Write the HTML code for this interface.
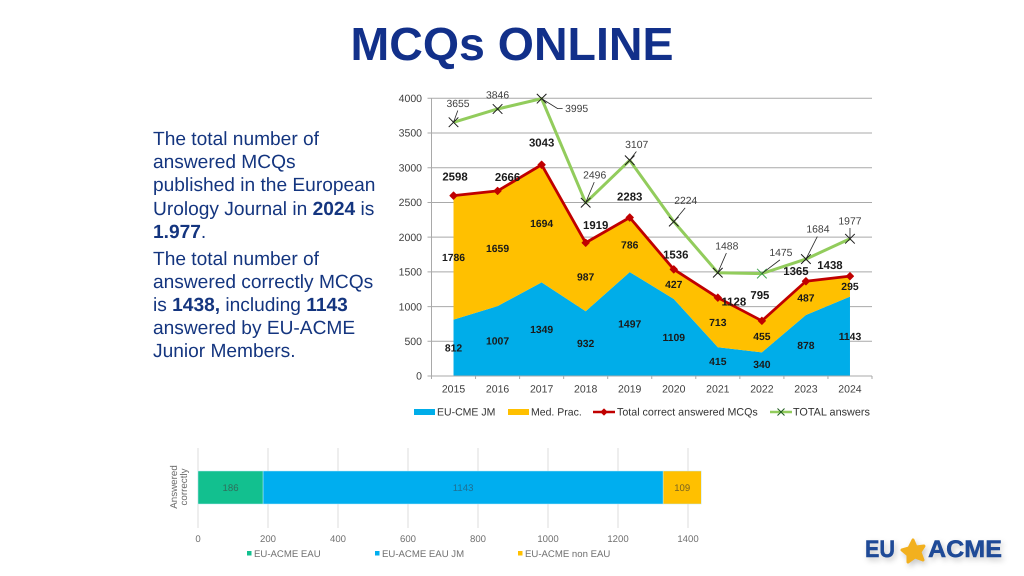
<!DOCTYPE html>
<html lang="en">
<head>
<meta charset="utf-8">
<title>MCQs ONLINE</title>
<style>
html,body{margin:0;padding:0;background:#fff;}
body{width:1024px;height:576px;overflow:hidden;font-family:"Liberation Sans",sans-serif;}
svg{display:block;text-rendering:geometricPrecision;}
text{font-family:"Liberation Sans",sans-serif;}
</style>
</head>
<body>
<svg id="slide" width="1024" height="576" viewBox="0 0 1024 576" xmlns="http://www.w3.org/2000/svg">
  <text x="512" y="60" text-anchor="middle" font-size="46.5" font-weight="700" fill="#12308a">MCQs ONLINE</text>

  <g font-size="19.15" fill="#14357f">
    <text x="153" y="145">The total number of</text>
    <text x="153" y="168">answered MCQs</text>
    <text x="153" y="191">published in the European</text>
    <text x="153" y="215">Urology Journal in <tspan font-weight="700">2024</tspan> is</text>
    <text x="153" y="238"><tspan font-weight="700">1.977</tspan>.</text>
    <text x="153" y="265">The total number of</text>
    <text x="153" y="288">answered correctly MCQs</text>
    <text x="153" y="311">is <tspan font-weight="700">1438,</tspan> including <tspan font-weight="700">1143</tspan></text>
    <text x="153" y="334">answered by EU-ACME</text>
    <text x="153" y="357">Junior Members.</text>
  </g>

  <g id="main-chart"></g>
  <g id="bar-chart"></g>

  <g style="filter:drop-shadow(2px 3px 3px rgba(0,0,0,.22))">
    <text x="865" y="557" font-size="24" font-weight="700" fill="#1f4a97" stroke="#1f4a97" stroke-width="0.5" textLength="30" lengthAdjust="spacingAndGlyphs">EU</text>
    <polygon points="913,540 916,547 924,546 920,552 923,560 915,557 908,562 908,555 902,550 909,548" fill="#f2b01e" stroke="#f2b01e" stroke-width="3" stroke-linejoin="round"></polygon>
    <text x="928" y="557" font-size="24" font-weight="700" fill="#1f4a97" stroke="#1f4a97" stroke-width="0.5" textLength="74" lengthAdjust="spacingAndGlyphs">ACME</text>
  </g>
</svg>

<script>
const years = ['2015','2016','2017','2018','2019','2020','2021','2022','2023','2024'];
const jmValues = [812,1007,1349,932,1497,1109,415,340,878,1143];
const medValues = [1786,1659,1694,987,786,427,713,455,487,295];
const correctValues = [2598,2666,3043,1919,2283,1536,1128,795,1365,1438];
const totalValues = [3655,3846,3995,2496,3107,2224,1488,1475,1684,1977];
const yTicks = [0,500,1000,1500,2000,2500,3000,3500,4000];

const barCategory = 'Answered correctly';
const barSeriesNames = ['EU-ACME EAU','EU-ACME EAU JM','EU-ACME non EAU'];
const barSeriesValues = [186,1143,109];
const barTicks = [0,200,400,600,800,1000,1200,1400];

const SVGNS = 'http://www.w3.org/2000/svg';
const mainRoot = document.getElementById('main-chart');
const barRoot = document.getElementById('bar-chart');

function make(parent, tag, attrs, txt) {
  const el = document.createElementNS(SVGNS, tag);
  for (const k in attrs) el.setAttribute(k, attrs[k]);
  if (txt !== undefined) el.textContent = txt;
  parent.appendChild(el);
  return el;
}

/* main chart axes */
const plotLeft = 431.5, plotRight = 872, plotBottom = 376, plotTop = 98.3;
const yMax = 4000;
function yScale(v) { return plotBottom - v / yMax * (plotBottom - plotTop); }
function xScale(i) { return plotLeft + (i + 0.5) * (plotRight - plotLeft) / years.length; }

/* label nudges relative to each point (layout only) */
const correctNudgeX = [1.5,10,0,10,0,2,16,-2,-10,-20];
const correctNudgeY = [-19,-14,-22,-18,-21,-15,4,-26,-10,-11];
const totalNudgeX = [4.5,0,35,9,7,12,9,19,12,0];
const totalNudgeY = [-19,-14,10,-28,-16,-21,-27,-21,-30,-18];

/* gridlines */
yTicks.forEach(function (t) {
  const g = make(mainRoot, 'line', {x1: plotLeft - 4, x2: plotRight, y1: yScale(t), y2: yScale(t), stroke: '#a9a9a9', 'stroke-width': 1});
  
  
  const l = make(mainRoot, 'text', {x: 422, y: yScale(t) + 3.7, 'text-anchor': 'end', 'font-size': 10.5, fill: '#404040'}, String(t));
  
  
});

/* stacked areas */
function areaPath(lower, upper) {
  let p = '';
  upper.forEach(function (v, i) { p += (i ? 'L' : 'M') + xScale(i) + ' ' + yScale(v + lower[i]) + ' '; });
  for (let i = upper.length - 1; i >= 0; i--) p += 'L' + xScale(i) + ' ' + yScale(lower[i]) + ' ';
  return p + 'Z';
}
const zeros = jmValues.map(function () { return 0; });
const areaJm = make(mainRoot, 'path', {d: areaPath(zeros, jmValues), fill: '#00ade9'});


const areaMed = make(mainRoot, 'path', {d: areaPath(jmValues, medValues), fill: '#ffc000'});



/* axes */
const yAxis = make(mainRoot, 'line', {x1: plotLeft, x2: plotLeft, y1: plotTop, y2: plotBottom, stroke: '#a9a9a9', 'stroke-width': 1});


const xAxis = make(mainRoot, 'line', {x1: plotLeft - 4, x2: plotRight, y1: plotBottom, y2: plotBottom, stroke: '#a9a9a9', 'stroke-width': 1});


years.forEach(function (yr, i) {
  const edge = plotLeft + i * (plotRight - plotLeft) / years.length;
  make(mainRoot, 'line', {x1: edge, x2: edge, y1: plotBottom, y2: plotBottom + 3, stroke: '#a9a9a9', 'stroke-width': 1});
  const l = make(mainRoot, 'text', {x: xScale(i), y: 392.5, 'text-anchor': 'middle', 'font-size': 10.5, fill: '#404040'}, yr);
  
  
});
make(mainRoot, 'line', {x1: plotRight, x2: plotRight, y1: plotBottom, y2: plotBottom + 3, stroke: '#a9a9a9', 'stroke-width': 1});

/* series lines */
function linePoints(vals) { return vals.map(function (v, i) { return xScale(i) + ',' + yScale(v); }).join(' '); }
const totalLine = make(mainRoot, 'polyline', {points: linePoints(totalValues), fill: 'none', stroke: '#92cc5c', 'stroke-width': 3, 'stroke-linejoin': 'round'});


const correctLine = make(mainRoot, 'polyline', {points: linePoints(correctValues), fill: 'none', stroke: '#c00000', 'stroke-width': 2.8, 'stroke-linejoin': 'round'});



/* markers */
function drawX(cx, cy, color, r) {
  const g = make(mainRoot, 'path', {d: 'M' + (cx - r) + ' ' + (cy - r) + 'L' + (cx + r) + ' ' + (cy + r) + 'M' + (cx - r) + ' ' + (cy + r) + 'L' + (cx + r) + ' ' + (cy - r), stroke: color, 'stroke-width': 1, fill: 'none'});
  
  
}
function drawDiamond(cx, cy, r) {
  const d = make(mainRoot, 'polygon', {points: cx + ',' + (cy - r) + ' ' + (cx + r) + ',' + cy + ' ' + cx + ',' + (cy + r) + ' ' + (cx - r) + ',' + cy, fill: '#c00000', stroke: '#c00000', 'stroke-width': 1, 'stroke-linejoin': 'round'});
  
  
}
totalValues.forEach(function (v, i) {
  drawX(xScale(i), yScale(v), i === 7 ? '#3fa34d' : '#1a1a1a', 4.8);
});
correctValues.forEach(function (v, i) { drawDiamond(xScale(i), yScale(v), 3.6); });

/* total labels and leader lines */
totalValues.forEach(function (v, i) {
  const px = xScale(i), py = yScale(v);
  const lx = px + totalNudgeX[i], ly = py + totalNudgeY[i];
  if (v === totalValues[2]) {
    const p = make(mainRoot, 'polyline', {points: px + ',' + py + ' ' + (lx - 19) + ',' + ly + ' ' + (lx - 14) + ',' + ly, fill: 'none', stroke: '#262626', 'stroke-width': 0.8});
    
    
  } else if (i !== 1) {
    const ln = make(mainRoot, 'line', {x1: px, y1: py, x2: px + (lx - px) * 0.95, y2: py + (ly + 7 - py) * 0.98, stroke: '#262626', 'stroke-width': 0.8});
    
    
  }
  const t = make(mainRoot, 'text', {x: lx, y: ly + 3.6, 'text-anchor': 'middle', 'font-size': 10.4, fill: '#404040'}, String(v));
  
  
});

/* correct labels */
correctValues.forEach(function (v, i) {
  const t = make(mainRoot, 'text', {x: xScale(i) + correctNudgeX[i], y: yScale(v) + correctNudgeY[i] + 4, 'text-anchor': 'middle', 'font-size': 11.4, 'font-weight': 700, fill: '#1a1a1a'}, String(v));
  
  
});

/* band labels */
jmValues.forEach(function (v, i) {
  const t = make(mainRoot, 'text', {x: xScale(i), y: (yScale(0) + yScale(v)) / 2 + 3.6, 'text-anchor': 'middle', 'font-size': 10.4, 'font-weight': 700, fill: '#1a1a1a'}, String(v));
  
  
});
medValues.forEach(function (v, i) {
  const t = make(mainRoot, 'text', {x: xScale(i), y: (yScale(jmValues[i]) + yScale(jmValues[i] + v)) / 2 + 3.6, 'text-anchor': 'middle', 'font-size': 10.4, 'font-weight': 700, fill: '#1a1a1a'}, String(v));
  
  
});

/* main legend */
const legJmSwatch = make(mainRoot, 'rect', {x: 414, y: 409, width: 21, height: 6, fill: '#00ade9'});


const legJmText = make(mainRoot, 'text', {x: 437, y: 415.5, 'font-size': 10.5, fill: '#333'}, 'EU-CME JM');


const legMedSwatch = make(mainRoot, 'rect', {x: 508, y: 409, width: 21, height: 6, fill: '#ffc000'});


const legMedText = make(mainRoot, 'text', {x: 531, y: 415.5, 'font-size': 10.5, fill: '#333'}, 'Med. Prac.');


const legRedLine = make(mainRoot, 'line', {x1: 593, x2: 615, y1: 412, y2: 412, stroke: '#c00000', 'stroke-width': 2.5});


drawDiamond(604, 412, 3);
const legRedText = make(mainRoot, 'text', {x: 617, y: 415.5, 'font-size': 10.7, fill: '#333'}, 'Total correct answered MCQs');


const legGreenLine = make(mainRoot, 'line', {x1: 770, x2: 792, y1: 412, y2: 412, stroke: '#92cc5c', 'stroke-width': 2.5});


drawX(781, 412, '#1f5c1f', 3.5);
const legGreenText = make(mainRoot, 'text', {x: 793, y: 415.5, 'font-size': 10.85, fill: '#333'}, 'TOTAL answers');



/* horizontal bar chart */
const barLeft = 198, barPerUnit = 0.35;
function barX(v) { return barLeft + v * barPerUnit; }
const barColors = ['#12c08f','#00aeef','#ffc000'];
const barTextColors = ['#2f6f5c','#1f6f92','#7a6420'];

barTicks.forEach(function (t) {
  const g = make(barRoot, 'line', {x1: barX(t), x2: barX(t), y1: 448, y2: 528, stroke: '#dedede', 'stroke-width': 1});
  
  
  const l = make(barRoot, 'text', {x: barX(t), y: 542, 'text-anchor': 'middle', 'font-size': 9.6, fill: '#707070'}, String(t));
  
  
});

let barCum = 0;
barSeriesValues.forEach(function (v, i) {
  const r = make(barRoot, 'rect', {x: barX(barCum), y: 471, width: v * barPerUnit, height: 33, fill: barColors[i], stroke: '#bfeaf7', 'stroke-width': 0.5});
  
  
  const t = make(barRoot, 'text', {x: barX(barCum + v / 2), y: 491, 'text-anchor': 'middle', 'font-size': 9.6, fill: barTextColors[i]}, String(v));
  
  
  barCum += v;
});

const barTitleWords = barCategory.split(' ');
barTitleWords.forEach(function (w, i) {
  const t = make(barRoot, 'text', {x: 0, y: 0, transform: 'translate(' + (177 + i * 10) + ' 487) rotate(-90)', 'text-anchor': 'middle', 'font-size': 9.8, fill: '#6a6a6a'}, w);
  
  
});

const barLegendX = [247,375,518];
barSeriesNames.forEach(function (name, i) {
  const s = make(barRoot, 'rect', {x: barLegendX[i], y: 551, width: 4.5, height: 4.5, fill: barColors[i]});
  
  
  const t = make(barRoot, 'text', {x: barLegendX[i] + 7, y: 557, 'font-size': 9.6, fill: '#707070'}, name);
  
  
});
</script>
</body>
</html>
